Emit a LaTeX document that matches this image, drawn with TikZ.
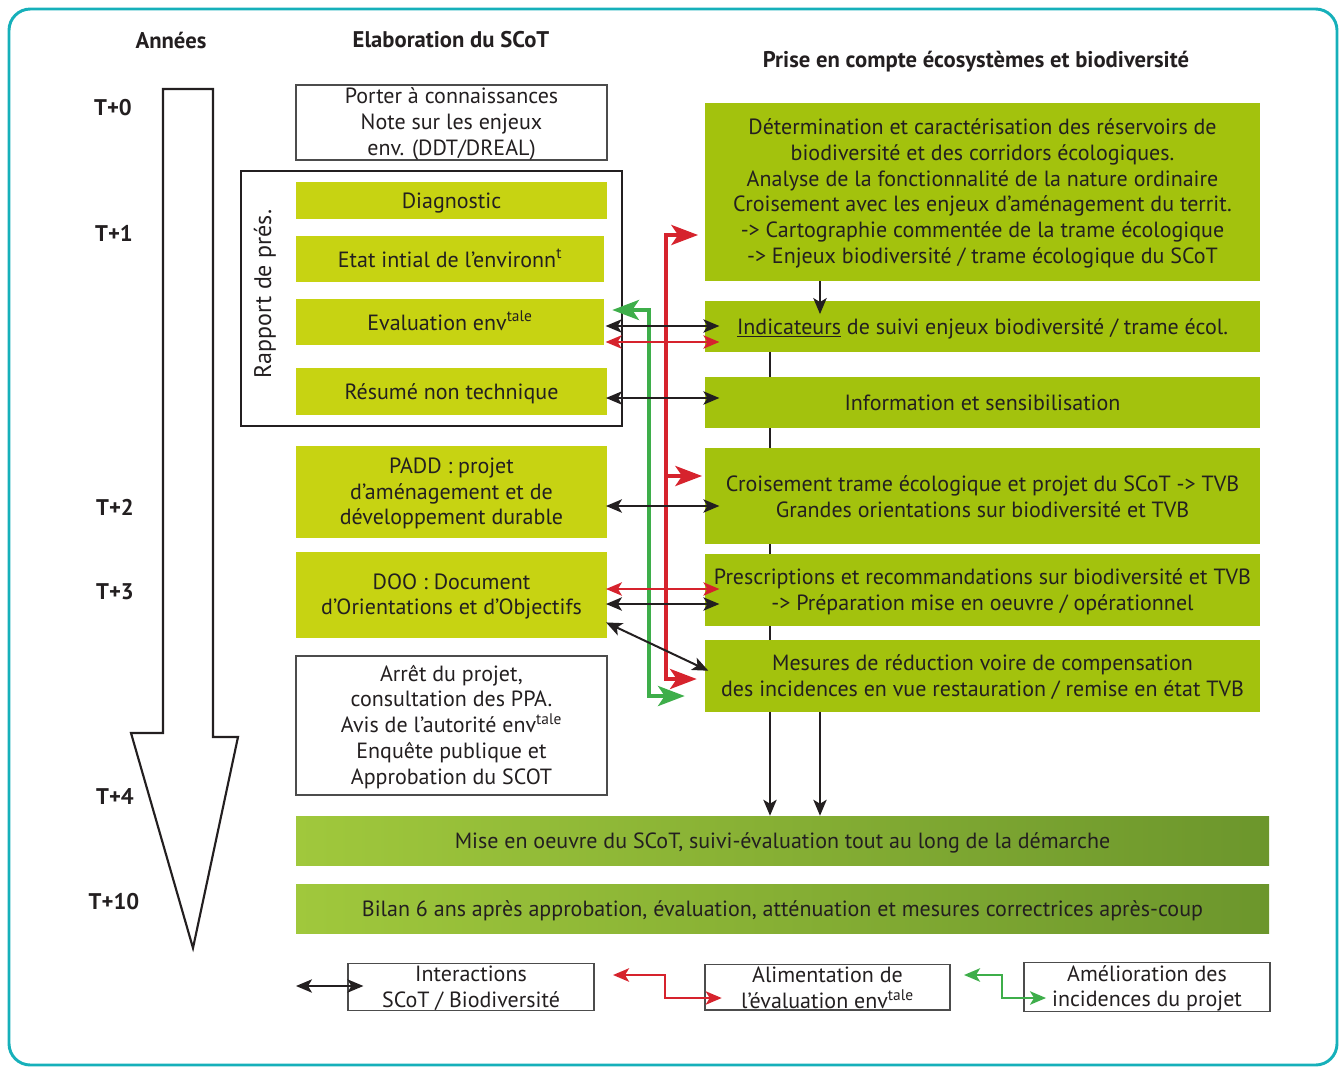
\documentclass[tikz,border=0pt]{standalone}
\usepackage{fontspec}
\setmainfont{PT Sans}
\usetikzlibrary{arrows.meta}
\definecolor{lg}{RGB}{199,211,18}
\definecolor{rg}{RGB}{163,194,13}
\definecolor{gl}{RGB}{160,200,60}
\definecolor{gd}{RGB}{108,150,44}
\definecolor{rr}{RGB}{214,35,45}
\definecolor{gg}{RGB}{62,174,74}
\definecolor{frameteal}{RGB}{22,176,186}
\definecolor{tx}{RGB}{35,31,32}
\newcommand\toprl{\rule{0pt}{14pt}}
\newcommand\botrl{\rule[-1pt]{0pt}{0pt}}
\pgfdeclarelayer{bg}
\pgfsetlayers{bg,main}
\tikzset{
  rect/.style n args={4}{minimum width={(#3-#1)*0.75pt}, minimum height={(#4-#2)*0.75pt}, at={({(#1+#3)/2},{(#2+#4)/2})}},
  box/.style={inner sep=0pt, align=center, text=tx},
  oneline/.style={execute at begin node={\rule{0pt}{17pt}}, execute at end node={\rule[-5pt]{0pt}{0pt}}},
  lbox/.style={box, fill=lg},
  rbox/.style={box, fill=rg},
  wbox/.style={box, draw=black!70, line width=0.9pt, fill=white},
  band/.style={box, left color=gl, right color=gd},
  hd/.style={font=\fontsize{17}{19.35}\selectfont\bfseries, text=tx},
  bi/.style={line width=1.5pt, tx, {Stealth[length=12pt,width=10pt,inset=3pt]}-{Stealth[length=12pt,width=10pt,inset=3pt]}},
  down/.style={line width=1.5pt, tx, -{Stealth[length=12pt,width=10pt,inset=3pt]}},
  rarr/.style={line width=3pt, rr, -{Stealth[length=20pt,width=15pt,inset=5pt]}},
  gline/.style={line width=3pt, gg, {Stealth[length=20pt,width=15pt,inset=5pt]}-{Stealth[length=20pt,width=15pt,inset=5pt]}},
  rbi/.style={line width=1.5pt, rr, {Stealth[length=12pt,width=10pt,inset=3pt]}-{Stealth[length=12pt,width=10pt,inset=3pt]}},
  legr/.style={line width=2pt, rr, {Stealth[length=12pt,width=10pt,inset=3pt]}-{Stealth[length=12pt,width=10pt,inset=3pt]}},
  legg/.style={line width=2pt, gg, {Stealth[length=12pt,width=10pt,inset=3pt]}-{Stealth[length=12pt,width=10pt,inset=3pt]}},
}
\begin{document}
\begin{tikzpicture}[x=0.75pt,y=-0.75pt, font=\fontsize{16.5}{19.35}\selectfont]
\useasboundingbox (0,0) rectangle (1340,1068);
\draw[frameteal, line width=2.2pt, rounded corners=16pt] (9,9) rectangle (1337,1065);

% headers
\node[hd] (hA) at (171,40) {Années};
\node[hd] (hE) at (451,40) {Elaboration du SCoT};
\node[hd] (hP) at (976,62) {Prise en compte écosystèmes et biodiversité};

% years
\node[hd] (t0) at (113,108) {T+0};
\node[hd] (t1) at (114,233) {T+1};
\node[hd] (t2) at (115,507) {T+2};
\node[hd] (t3) at (115,592) {T+3};
\node[hd] (t4) at (115,796) {T+4};
\node[hd] (t10) at (114,902) {T+10};

% big arrow
\draw[line width=1.6pt, tx] (163,89) -- (163,733) -- (131,733) -- (193,948) -- (238,737) -- (213,737) -- (213,89) -- cycle;

% left column
\node[wbox, rect={296}{86}{607}{159}] (porter) {\toprl Porter à connaissances\\Note sur les enjeux\\env. (DDT/DREAL)\botrl};
\node[draw=tx, line width=1.6pt, inner sep=0pt, rect={241}{171}{622}{426}] (rap) {};
\node[rotate=90, text=tx, font=\fontsize{18}{20}\selectfont] (raptxt) at (265,294) {Rapport de prés.};
\node[lbox, oneline, rect={296}{182}{607}{219}] (diag) {Diagnostic};
\node[lbox, oneline, rect={296}{236}{604}{282}] (etat) {Etat intial de l’environn\textsuperscript{t}};
\node[lbox, oneline, rect={296}{299}{604}{345}] (eval) {Evaluation env\textsuperscript{tale}};
\node[lbox, oneline, rect={296}{368}{607}{415}] (resume) {Résumé non technique};
\node[lbox, rect={296}{446}{607}{538}] (padd) {\toprl PADD : projet\\d’aménagement et de\\développement durable\botrl};
\node[lbox, rect={296}{552}{607}{638}] (doo) {\toprl DOO : Document\\d’Orientations et d’Objectifs\botrl};
\node[wbox, rect={296}{656}{607}{795}] (arret) {\toprl Arrêt du projet,\\consultation des PPA.\\Avis de l’autorité env\textsuperscript{tale}\\Enquête publique et\\Approbation du SCOT\botrl};

% right column
\node[rbox, rect={705}{103}{1260}{281}] (r1) {\toprl Détermination et caractérisation des réservoirs de\\biodiversité et des corridors écologiques.\\Analyse de la fonctionnalité de la nature ordinaire\\Croisement avec les enjeux d’aménagement du territ.\\-> Cartographie commentée de la trame écologique\\-> Enjeux biodiversité / trame écologique du SCoT\botrl};
\node[rbox, oneline, rect={705}{301}{1260}{352}] (ind) {\underline{Indicateurs} de suivi enjeux biodiversité / trame écol.};
\node[rbox, oneline, rect={705}{377}{1260}{428}] (info) {Information et sensibilisation};
\node[rbox, rect={705}{448}{1260}{544}] (crois) {\toprl Croisement trame écologique et projet du SCoT -> TVB\\Grandes orientations sur biodiversité et TVB\botrl};
\node[rbox, rect={705}{554}{1260}{626}] (presc) {\toprl Prescriptions et recommandations sur biodiversité et TVB\\-> Préparation mise en oeuvre / opérationnel\botrl};
\node[rbox, rect={705}{640}{1260}{712}] (mes) {\toprl Mesures de réduction voire de compensation\\des incidences en vue restauration / remise en état TVB\botrl};

% bottom bands
\node[band, oneline, rect={296}{816}{1269}{865}] (mise) {Mise en oeuvre du SCoT, suivi-évaluation tout au long de la démarche};
\node[band, oneline, rect={296}{884}{1269}{933}] (bilan) {Bilan 6 ans après approbation, évaluation, atténuation et mesures correctrices après-coup};

% vertical connectors
\begin{pgfonlayer}{bg}
\draw[down] (ind.south -| 770,0) -- (mise.north -| 770,0);
\end{pgfonlayer}
\draw[down] (mes.south -| 820,0) -- (mise.north -| 820,0);
\draw[down, shorten >=-10pt] (r1.south -| 820,0) -- (ind.north -| 820,0);

% red feed lines
\coordinate (rtop) at (666,235);
\coordinate (rmid) at (666,476);
\coordinate (rbot) at (666,679);
\draw[rarr, shorten >=5pt] (rbot) -- (rtop) -- (r1.west |- rtop);
\draw[rarr, shorten >=2pt] (rmid) -- (crois.west |- rmid);
\draw[rarr, shorten >=6pt] (rmid) -- (rbot) -- (mes.west |- rbot);

% green improvement line
\coordinate (gtop) at (649,310);
\coordinate (gbot) at (649,696);
\draw[gline, shorten <=6pt, shorten >=15pt] (eval.east |- gtop) -- (gtop) -- (gbot) -- (mes.west |- gbot);

% interactions
\draw[bi, shorten >=-11pt, shorten <=1pt] (eval.east |- 0,326) -- (ind.west |- 0,326);
\draw[rbi, shorten >=-11pt, shorten <=1pt] (eval.east |- 0,342) -- (ind.west |- 0,342);
\draw[bi, shorten >=-11pt, shorten <=-1pt] (resume.east |- 0,398) -- (info.west |- 0,398);
\draw[bi, shorten >=-11pt, shorten <=-1pt] (padd.east |- 0,506) -- (crois.west |- 0,506);
\draw[rbi, shorten >=-11pt, shorten <=-1pt] (doo.east |- 0,589) -- (presc.west |- 0,589);
\draw[bi, shorten >=-11pt, shorten <=-1pt] (doo.east |- 0,604) -- (presc.west |- 0,604);
\draw[bi, shorten >=-3pt, shorten <=-1pt] (doo.east |- 0,623) -- (mes.west |- 0,669);

% legend
\node[wbox, rect={348}{965}{594}{1009}] (leg1) {\toprl Interactions\\SCoT / Biodiversité\botrl};
\node[wbox, rect={705}{965}{950}{1009}] (leg2) {\toprl Alimentation de\\l’évaluation env\textsuperscript{tale}\botrl};
\node[wbox, rect={1024}{965}{1270}{1009}] (leg3) {\toprl Amélioration des\\incidences du projet\botrl};
\coordinate (lb) at (296,986);
\draw[bi, shorten >=-12pt] (lb) -- (leg1.west |- lb);
\coordinate (lr) at (613,975);
\draw[legr, shorten >=-13pt] (lr) -- (665,975) -- (665,998) -- (leg2.west |- 0,998);
\coordinate (lgr) at (964,975);
\draw[legg, shorten >=-17pt] (lgr) -- (1002,975) -- (1002,998) -- (leg3.west |- 0,998);
\end{tikzpicture}
\end{document}
